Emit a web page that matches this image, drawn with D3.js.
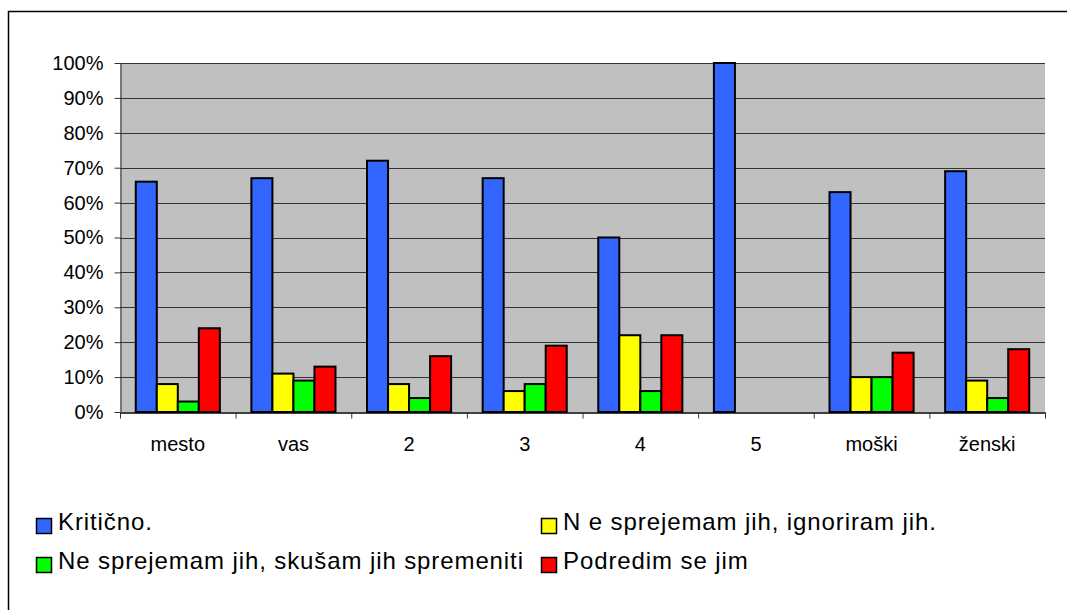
<!DOCTYPE html>
<html>
<head>
<meta charset="utf-8">
<script src="https://cdn.jsdelivr.net/npm/d3@7"></script>
<style>
  body { margin: 0; background: #fff; }
  svg { display: block; font-family: "Liberation Sans", Arial, sans-serif; }
</style>
</head>
<body>
<svg></svg>
<script>
// Categories on the x axis
const categories = ["mesto", "vas", "2", "3", "4", "5", "moški", "ženski"];

// Series names (legend) and colours
const seriesNames = [
    "Kritično.",
    "N e sprejemam jih, ignoriram jih.",
    "Ne sprejemam jih, skušam jih spremeniti",
    "Podredim se jim"
];
const seriesColors = ["#3366FF", "#FFFF00", "#00FF00", "#FF0000"];

// Values in percent, one array per series
const kriticno  = [66, 67, 72, 67, 50, 100, 63, 69];
const ignoriram = [8, 11, 8, 6, 22, 0, 10, 9];
const spremeniti = [3, 9, 4, 8, 6, 0, 10, 4];
const podredim  = [24, 13, 16, 19, 22, 0, 17, 18];
const seriesValues = [kriticno, ignoriram, spremeniti, podredim];

// Y tick values
const yTicks = [0, 10, 20, 30, 40, 50, 60, 70, 80, 90, 100];

const W = 1067, H = 610;
const svg = d3.select("svg").attr("width", W).attr("height", H);

// outer frame (runs past the right and bottom edges)
svg.append("rect")
    .attr("x", 8.5).attr("y", 11.5)
    .attr("width", W + 20).attr("height", H + 20)
    .attr("fill", "#fff").attr("stroke", "#000").attr("stroke-width", 1.5);

const plot = { left: 120, right: 1045, top: 63, bottom: 412 };

const x = d3.scaleBand().domain(categories).range([plot.left, plot.right]).padding(0);
const xs = d3.scaleBand().domain(d3.range(seriesNames.length))
    .range([0, x.bandwidth()]).paddingInner(0).paddingOuter(0.75);
const y = d3.scaleLinear().domain([0, 100]).range([plot.bottom, plot.top]);

// plot background
svg.append("rect")
    .attr("x", plot.left).attr("y", plot.top)
    .attr("width", plot.right - plot.left).attr("height", plot.bottom - plot.top)
    .attr("fill", "#C0C0C0");

// gridlines
svg.append("g").selectAll("line")
    .data(yTicks.filter(d => d > 0))
    .enter().append("line")
    .attr("x1", plot.left).attr("x2", plot.right)
    .attr("y1", d => Math.round(y(d)) + 0.5).attr("y2", d => Math.round(y(d)) + 0.5)
    .attr("stroke", "#333").attr("stroke-width", 1);

// bars
const rows = [];
categories.forEach((c, i) => {
    seriesValues.forEach((vals, s) => {
        if (vals[i] > 0) rows.push({ cat: c, s: s, v: vals[i] });
    });
});

svg.append("g").selectAll("rect")
    .data(rows)
    .enter().append("rect")
    .attr("x", d => x(d.cat) + xs(d.s))
    .attr("y", d => y(d.v))
    .attr("width", xs.bandwidth())
    .attr("height", d => y(0) - y(d.v))
    .attr("fill", d => seriesColors[d.s])
    .attr("stroke", "#000").attr("stroke-width", 2);

// y axis
const yAxis = svg.append("g")
    .attr("transform", `translate(${plot.left + 0.5},0)`)
    .call(d3.axisLeft(y).tickValues(yTicks).tickFormat(d => d + "%").tickSize(6).tickSizeOuter(0));
yAxis.select(".domain").attr("stroke", "#333");
yAxis.selectAll(".tick line").attr("stroke", "#333");
yAxis.selectAll("text")
    .attr("x", -17)
    .attr("font-size", 20)
    .attr("font-family", "Liberation Sans, Arial, sans-serif")
    .attr("fill", "#000");

// x axis: boundary ticks
const xb = d3.scaleLinear().domain([0, categories.length]).range([plot.left, plot.right]);
const xTickAxis = svg.append("g")
    .attr("transform", `translate(0,${plot.bottom + 0.5})`)
    .call(d3.axisBottom(xb).tickValues(d3.range(categories.length + 1))
        .tickFormat("").tickSize(6).tickSizeOuter(0));
xTickAxis.select(".domain").attr("stroke", "#000").attr("stroke-width", 1.5);
xTickAxis.selectAll(".tick line").attr("stroke", "#333");

// x axis: category labels
const xLab = svg.append("g")
    .attr("transform", `translate(0,${plot.bottom})`)
    .call(d3.axisBottom(x).tickSize(0));
xLab.select(".domain").remove();
xLab.selectAll("text")
    .attr("y", 25)
    .attr("font-size", 20)
    .attr("font-family", "Liberation Sans, Arial, sans-serif")
    .attr("fill", "#000");

// legend
const legendPos = [
    { x: 36, y: 518 },
    { x: 541, y: 518 },
    { x: 36, y: 557 },
    { x: 541, y: 557 }
];
const legend = svg.append("g").selectAll("g")
    .data(seriesNames)
    .enter().append("g")
    .attr("transform", (d, i) => `translate(${legendPos[i].x},${legendPos[i].y})`);
legend.append("rect")
    .attr("x", 0.5).attr("y", 0.5)
    .attr("width", 15).attr("height", 15)
    .attr("fill", (d, i) => seriesColors[i])
    .attr("stroke", "#000").attr("stroke-width", 1.5);
legend.append("text")
    .attr("x", 22).attr("y", 12)
    .attr("font-size", 24)
    .attr("letter-spacing", 0.9)
    .attr("fill", "#000")
    .text(d => d);
</script>
</body>
</html>
